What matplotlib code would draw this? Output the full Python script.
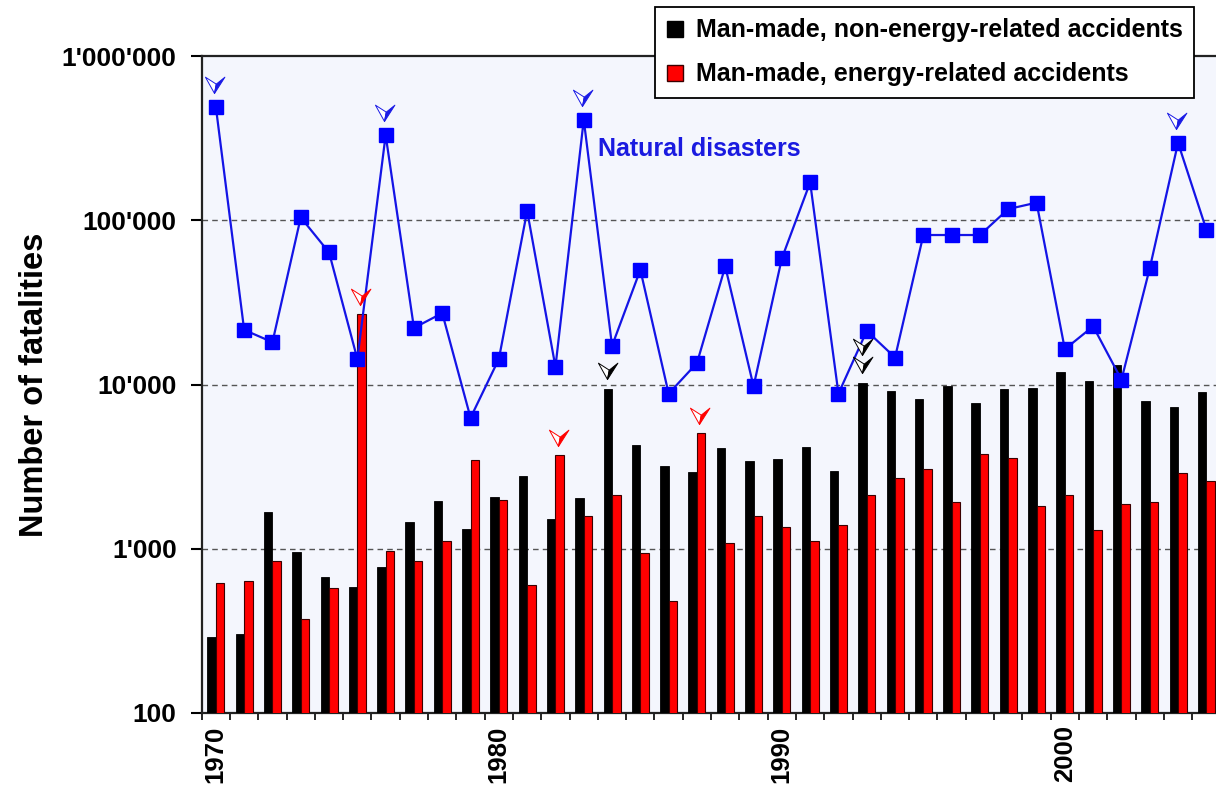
import matplotlib
matplotlib.use("Agg")
import matplotlib.pyplot as plt
from matplotlib.path import Path
from matplotlib.lines import Line2D
from matplotlib.transforms import offset_copy
import numpy as np

plt.rcParams['font.family'] = ['Liberation Sans', 'DejaVu Sans']

years = list(range(1970, 2006))
natural = [490000, 21500, 18100, 104000, 63700, 14300, 330000, 22100, 27200, 6270,
           14300, 114000, 12800, 409000, 17200, 49900, 8800, 13500, 52300, 9750,
           58600, 170000, 8800, 21200, 14600, 81300, 81300, 81300, 117000, 128000,
           16400, 22600, 10700, 51000, 296000, 87700]
nonenergy = [290, 301, 1670, 950, 676, 582, 773, 1460, 1940, 1310,
             2080, 2760, 1520, 2050, 9330, 4260, 3210, 2920, 4090, 3400,
             3540, 4170, 2960, 10200, 9160, 8200, 9730, 7750, 9330, 9530,
             11970, 10500, 13100, 7890, 7330, 9000]
energy = [615, 638, 845, 372, 580, 26700, 967, 845, 1120, 3460,
          1970, 601, 3710, 1580, 2120, 946, 483, 5040, 1077, 1590,
          1350, 1120, 1400, 2120, 2710, 3080, 1930, 3800, 3590, 1820,
          2120, 1300, 1860, 1930, 2910, 2600]

natural_flag_years = [1970, 1976, 1983, 2004]
energy_flag_years = [1975, 1982, 1987]
nonenergy_flag_years = [1984, 1993]
nonenergy_flag_counts = [1, 2]

ytick_values = [100, 1000, 10000, 100000, 1000000]
ytick_labels = ["100", "1'000", "10'000", "100'000", "1'000'000"]
xlabel_years = [1970, 1980, 1990, 2000]

legend_labels = ["Man-made, non-energy-related accidents", "Man-made, energy-related accidents"]

W, H = 1216, 787
fig = plt.figure(figsize=(W / 100, H / 100), dpi=100)
ax_w_px = 1220.5 - 201.7
ax = fig.add_axes([201.7 / W, 1 - 713 / H, ax_w_px / W, (713 - 56) / H])
ax.set_facecolor('#f4f6fd')

x = np.arange(len(years))
bw = 0.3
ax.bar(x - bw / 2, nonenergy, width=bw, color='black', edgecolor='black', linewidth=0.6, zorder=3)
ax.bar(x + bw / 2, energy, width=bw, color='#ff0000', edgecolor='#3a0000', linewidth=0.8, zorder=3)
ax.plot(x, natural, color='#1414e6', linewidth=1.6, marker='s', markersize=10,
        markerfacecolor='#0000ff', markeredgecolor='#0000ff', zorder=4)

ax.set_yscale('log')
ax.set_ylim(100, 1000000)
ax.set_xlim(-0.5, len(years) - 0.5)

ax.set_yticks(ytick_values)
ax.set_yticklabels(ytick_labels, fontsize=19, fontweight='bold')
ax.yaxis.set_minor_locator(matplotlib.ticker.NullLocator())
ax.tick_params(axis='y', length=8, width=1.5, pad=10)

ax.set_xticks(np.arange(-0.5, len(years) + 0.5, 1.0))
ax.set_xticklabels([])
ax.tick_params(axis='x', which='major', length=5, width=1.2)
lab_idx = [years.index(y) for y in xlabel_years]
ax.set_xticks(lab_idx, minor=True)
ax.set_xticklabels([str(y) for y in xlabel_years], minor=True, rotation=90,
                   fontsize=18.5, fontweight='bold', va='top')
ax.tick_params(axis='x', which='minor', length=0, pad=9)

for v in [1000, 10000, 100000]:
    ax.axhline(v, color='#555555', linewidth=1.0, linestyle=(0, (4, 3)), zorder=1)

for s in ['left', 'bottom', 'top']:
    ax.spines[s].set_linewidth(1.6)
    ax.spines[s].set_color('#222222')
ax.spines['right'].set_visible(False)

ax.set_ylabel('Number of fatalities', fontsize=23.5, fontweight='bold')
ax.yaxis.set_label_coords((50 - 201.7) / ax_w_px, 0.5)

ax.text(13.5, 272000, 'Natural disasters', color='#1a1ae0', fontsize=18,
        fontweight='bold', ha='left', va='center', zorder=5)

# flag arrow markers (tip at origin)
left_part = Path([(0, 0), (-8.7, 15.7), (1.7, 9), (0, 0)],
                 [Path.MOVETO, Path.LINETO, Path.LINETO, Path.CLOSEPOLY])
right_part = Path([(0, 0), (1.7, 9), (10, 15.7), (0, 0)],
                  [Path.MOVETO, Path.LINETO, Path.LINETO, Path.CLOSEPOLY])
msize = 23.5


def flag(xv, yv, color, dy, dx=0):
    tr = offset_copy(ax.transData, fig=fig, x=dx, y=dy, units='dots')
    ax.plot([xv], [yv], marker=left_part, markersize=msize, markerfacecolor='white',
            markeredgecolor=color, markeredgewidth=0.7, linestyle='none', transform=tr,
            zorder=6, clip_on=False)
    ax.plot([xv], [yv], marker=right_part, markersize=msize, markerfacecolor=color,
            markeredgecolor=color, markeredgewidth=0.7, linestyle='none', transform=tr,
            zorder=6, clip_on=False)


for yr in natural_flag_years:
    i = years.index(yr)
    flag(x[i], natural[i], '#1a1ae6', 14, -2)
for yr in energy_flag_years:
    i = years.index(yr)
    flag(x[i] + bw / 2, energy[i], '#ff0000', 9, -2)
for yr, cnt in zip(nonenergy_flag_years, nonenergy_flag_counts):
    i = years.index(yr)
    for k in range(cnt):
        flag(x[i] - bw / 2, nonenergy[i], 'black', 10 + 18 * k, -1)

handles = [Line2D([], [], marker='s', linestyle='none', markersize=11,
                  markerfacecolor='black', markeredgecolor='black'),
           Line2D([], [], marker='s', linestyle='none', markersize=11,
                  markerfacecolor='#ff0000', markeredgecolor='#3a0000')]
leg = fig.legend(handles, legend_labels, loc='upper left',
                 bbox_to_anchor=(655 / W, 1 - 7 / H), frameon=True, fancybox=False,
                 prop={'weight': 'bold', 'size': 18}, handlelength=0.7,
                 handletextpad=0.5, borderpad=0.45, labelspacing=0.8,
                 borderaxespad=0)
leg.get_frame().set_edgecolor('black')
leg.get_frame().set_linewidth(1.3)
leg.get_frame().set_alpha(1)
leg.set_zorder(10)

fig.savefig('out.png', dpi=100)
